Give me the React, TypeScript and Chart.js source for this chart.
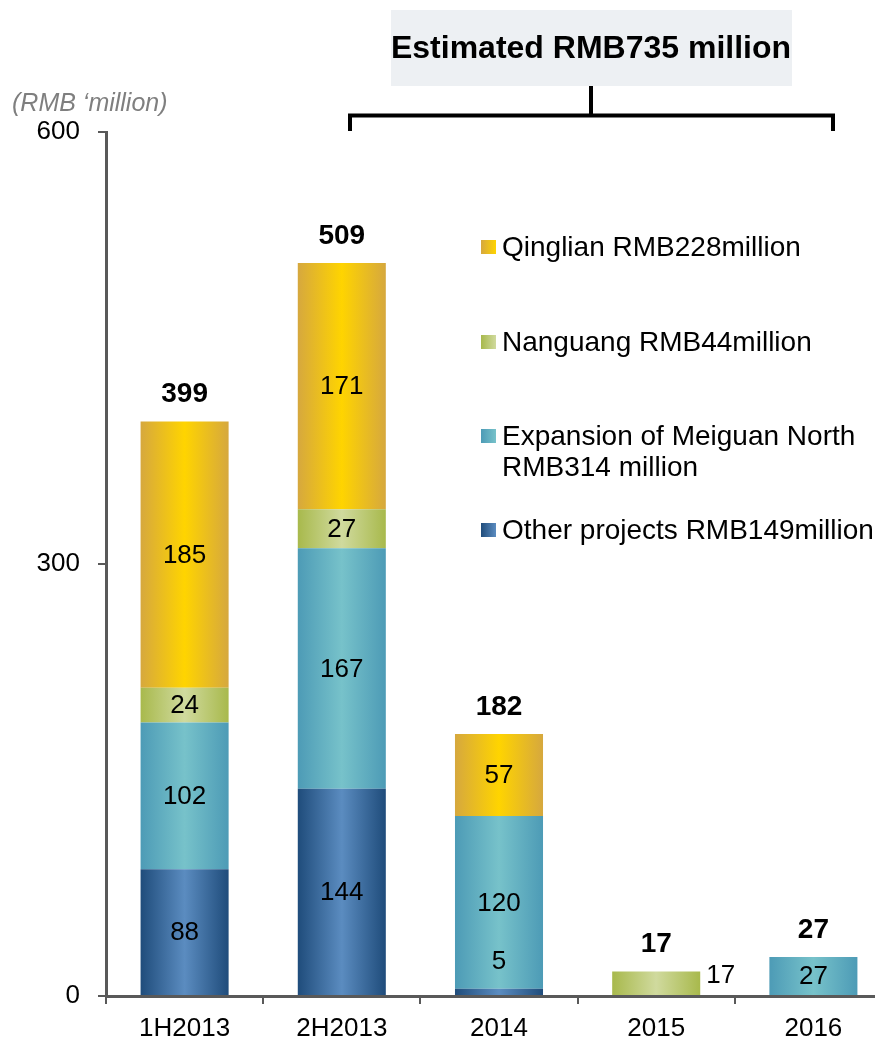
import React, { useEffect, useRef } from "react";
import { Chart, registerables } from "chart.js";

Chart.register(...registerables);

const categories = ["1H2013", "2H2013", "2014", "2015", "2016"];
const otherProjects = [88, 144, 5, 0, 0];
const meiguanNorth = [102, 167, 120, 0, 27];
const nanguang = [24, 27, 0, 17, 0];
const qinglian = [185, 171, 57, 0, 0];
const yTicks = [0, 300, 600];
const seriesNames = ["Other projects", "Expansion of Meiguan North", "Nanguang", "Qinglian"];
const legendLabels: string[][] = [
  ["Qinglian RMB228million"],
  ["Nanguang RMB44million"],
  ["Expansion of Meiguan North", "RMB314 million"],
  ["Other projects RMB149million"],
];
const titleText = "Estimated RMB735 million";
const axisTitle = "(RMB \u2018million)";

const FONT = "'Liberation Sans', Arial, sans-serif";
const BAR_PCT = 0.56;
const W = 892;
const H = 1040;

// [edge, center]
const blueStops = ["#1F4C7B", "#5B8CC0"];
const tealStops = ["#4D9BB6", "#77C2CA"];
const greenStops = ["#A8B94C", "#D0DA9E"];
const yellowStops = ["#D6A83E", "#FFD400"];

function makeGrad(stops: string[]) {
  return (c: any) => {
    const chart = c.chart;
    const xs = chart.scales && chart.scales.x;
    if (!xs || c.dataIndex == null || !chart.chartArea) return stops[1];
    const cx = xs.getPixelForValue(c.dataIndex);
    const hw = ((xs.width / categories.length) * BAR_PCT) / 2;
    if (!isFinite(cx) || !isFinite(hw)) return stops[1];
    const g = chart.ctx.createLinearGradient(cx - hw, 0, cx + hw, 0);
    g.addColorStop(0, stops[0]);
    g.addColorStop(0.5, stops[1]);
    g.addColorStop(1, stops[0]);
    return g;
  };
}

const seriesData = [otherProjects, meiguanNorth, nanguang, qinglian];
const seriesStops = [blueStops, tealStops, greenStops, yellowStops];

const decorPlugin = {
  id: "decor",
  afterDraw(chart: any) {
    const ctx = chart.ctx;
    ctx.save();
    // title box
    ctx.fillStyle = "#EDF0F3";
    ctx.fillRect(391, 10, 401, 76);
    ctx.fillStyle = "#000";
    ctx.font = `bold 32px ${FONT}`;
    ctx.textAlign = "center";
    ctx.textBaseline = "middle";
    ctx.fillText(titleText, 591, 49);
    // bracket
    ctx.strokeStyle = "#000";
    ctx.lineWidth = 4;
    ctx.lineCap = "butt";
    ctx.lineJoin = "miter";
    ctx.beginPath();
    ctx.moveTo(350, 131);
    ctx.lineTo(350, 115.5);
    ctx.lineTo(833, 115.5);
    ctx.lineTo(833, 131);
    ctx.stroke();
    ctx.beginPath();
    ctx.moveTo(591, 86);
    ctx.lineTo(591, 115.5);
    ctx.stroke();
    // axis title
    ctx.fillStyle = "#7F7F7F";
    ctx.font = `italic 25px ${FONT}`;
    ctx.textAlign = "left";
    ctx.textBaseline = "middle";
    ctx.fillText(axisTitle, 12, 104);
    // legend
    const itemY = [247, 342, 436, 530];
    const legendStops = [yellowStops, greenStops, tealStops, blueStops];
    legendLabels.forEach((lines, i) => {
      const y = itemY[i];
      const g = ctx.createLinearGradient(481, 0, 496, 0);
      g.addColorStop(0, legendStops[i][0]);
      g.addColorStop(1, legendStops[i][1]);
      ctx.fillStyle = g;
      ctx.fillRect(481, y - 7, 15, 14);
      ctx.fillStyle = "#000";
      ctx.font = `28px ${FONT}`;
      ctx.textAlign = "left";
      ctx.textBaseline = "middle";
      lines.forEach((ln, k) => ctx.fillText(ln, 502, y + 1 + k * 31));
    });
    ctx.restore();
  },
  afterDatasetsDraw(chart: any) {
    const ctx = chart.ctx;
    const xs = chart.scales.x;
    const ys = chart.scales.y;
    const hw = ((xs.width / categories.length) * BAR_PCT) / 2;
    ctx.save();
    ctx.fillStyle = "#000";
    chart.data.datasets.forEach((ds: any, i: number) => {
      const meta = chart.getDatasetMeta(i);
      ds.data.forEach((v: number, j: number) => {
        if (!v) return;
        const el = meta.data[j];
        const p = el.getProps(["x", "y", "base"], true);
        const h = p.base - p.y;
        ctx.font = `26px ${FONT}`;
        let above = 0;
        for (let k = i + 1; k < seriesData.length; k++) above += seriesData[k][j];
        if (h >= 30) {
          ctx.textAlign = "center";
          ctx.textBaseline = "middle";
          ctx.fillText(String(v), p.x, (p.y + p.base) / 2 + 1);
        } else if (above > 0) {
          ctx.textAlign = "center";
          ctx.textBaseline = "middle";
          ctx.fillText(String(v), p.x, p.y - 27);
        } else {
          ctx.textAlign = "left";
          ctx.textBaseline = "middle";
          ctx.fillText(String(v), p.x + hw + 6, p.y + 4);
        }
      });
    });
    // totals
    categories.forEach((_, j) => {
      let t = 0;
      seriesData.forEach((s) => (t += s[j]));
      const x = xs.getPixelForValue(j);
      const y = ys.getPixelForValue(t);
      ctx.font = `bold 28px ${FONT}`;
      ctx.textAlign = "center";
      ctx.textBaseline = "middle";
      ctx.fillText(String(t), x, y - 27);
    });
    ctx.restore();
  },
};

export default function App() {
  const ref = useRef<HTMLCanvasElement | null>(null);
  useEffect(() => {
    if (!ref.current) return;
    const chart = new Chart(ref.current, {
      type: "bar",
      data: {
        labels: categories,
        datasets: seriesData.map((d, i) => ({
          label: seriesNames[i],
          data: d,
          backgroundColor: makeGrad(seriesStops[i]),
          borderWidth: 0,
          categoryPercentage: 1,
          barPercentage: BAR_PCT,
        })),
      },
      plugins: [decorPlugin],
      options: {
        responsive: false,
        animation: false,
        devicePixelRatio: 1,
        layout: { padding: { top: 132, left: 0, right: 0, bottom: 0 } },
        plugins: { legend: { display: false }, tooltip: { enabled: false }, title: { display: false } },
        scales: {
          x: {
            stacked: true,
            offset: true,
            grid: {
              offset: true,
              drawOnChartArea: false,
              drawTicks: true,
              tickLength: 8,
              color: "#595959",
              lineWidth: 2,
            },
            border: { display: true, color: "#595959", width: 3 },
            ticks: { color: "#000", font: { family: FONT, size: 26 }, padding: 9, maxRotation: 0 },
            afterFit: (s: any) => {
              s.height = 44;
            },
          },
          y: {
            stacked: true,
            min: 0,
            max: 600,
            afterBuildTicks: (s: any) => {
              s.ticks = yTicks.map((v) => ({ value: v }));
            },
            grid: {
              drawOnChartArea: false,
              drawTicks: true,
              tickLength: 8,
              color: "#595959",
              lineWidth: 2,
            },
            border: { display: true, color: "#595959", width: 3 },
            ticks: { color: "#000", font: { family: FONT, size: 26 }, padding: 18 },
            afterFit: (s: any) => {
              s.width = 106;
            },
          },
        },
      },
    });
    return () => chart.destroy();
  }, []);
  return (
    <div style={{ position: "absolute", left: 0, top: 0, width: 875, height: 1040, overflow: "hidden", background: "#fff" }}>
      <canvas ref={ref} width={W} height={H} style={{ display: "block", width: W, height: H }} />
    </div>
  );
}
